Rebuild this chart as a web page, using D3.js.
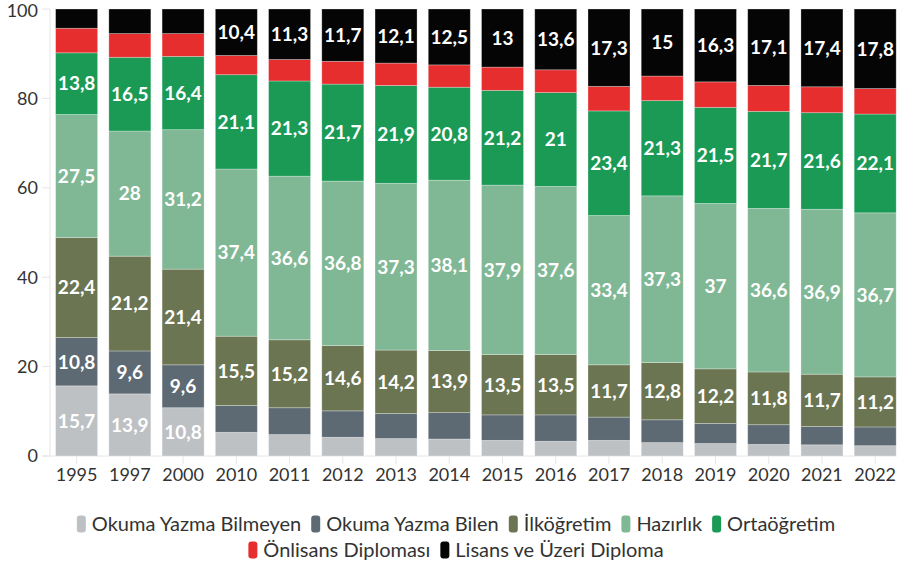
<!DOCTYPE html>
<html>
<head>
<meta charset="utf-8">
<script src="https://cdn.jsdelivr.net/npm/d3@7"></script>
<style>
  html, body { margin: 0; padding: 0; background: #fff; }
  svg { display: block; font-family: Lato, "Noto Sans", sans-serif; }
</style>
</head>
<body>
<svg id="chart" width="897" height="569"></svg>
<script>
const years = ["1995","1997","2000","2010","2011","2012","2013","2014","2015","2016","2017","2018","2019","2020","2021","2022"];
const seriesNames = ["Okuma Yazma Bilmeyen","Okuma Yazma Bilen","İlköğretim","Hazırlık","Ortaöğretim","Önlisans Diploması","Lisans ve Üzeri Diploma"];
const colors = ["#bec1c4","#5d6a73","#6b7551","#80b895","#1a9a55","#e62e2e","#050505"];

const okumaYazmaBilmeyen = [15.7,13.9,10.8,5.3,4.8,4.2,3.9,3.8,3.5,3.3,3.5,3.0,2.8,2.6,2.5,2.3];
const okumaYazmaBilen    = [10.8,9.6,9.6,6.0,6.0,5.9,5.6,5.9,5.7,5.9,5.2,5.1,4.5,4.4,4.1,4.2];
const ilkogretim         = [22.4,21.2,21.4,15.5,15.2,14.6,14.2,13.9,13.5,13.5,11.7,12.8,12.2,11.8,11.7,11.2];
const hazirlik           = [27.5,28,31.2,37.4,36.6,36.8,37.3,38.1,37.9,37.6,33.4,37.3,37,36.6,36.9,36.7];
const ortaogretim        = [13.8,16.5,16.4,21.1,21.3,21.7,21.9,20.8,21.2,21,23.4,21.3,21.5,21.7,21.6,22.1];
const onlisans           = [5.5,5.3,5.1,4.3,4.8,5.1,5.0,5.0,5.2,5.1,5.5,5.5,5.7,5.8,5.8,5.7];
const lisans             = [4.3,5.5,5.5,10.4,11.3,11.7,12.1,12.5,13,13.6,17.3,15,16.3,17.1,17.4,17.8];
const yTicks = [0,20,40,60,80,100];

const seriesValues = [okumaYazmaBilmeyen, okumaYazmaBilen, ilkogretim, hazirlik, ortaogretim, onlisans, lisans];

const svg = d3.select("#chart");
const x = d3.scaleBand().domain(years).range([50, 901.8]).paddingInner(0.211).paddingOuter(0.1055);
const y = d3.scaleLinear().domain([0, 100]).range([456, 9]);

// axes
const gAxisY = svg.append("g");
gAxisY.append("line").attr("x1", 50).attr("x2", 50).attr("y1", y(100)).attr("y2", y(0))
  .attr("stroke", "#e6e6e6").attr("stroke-width", 1);
gAxisY.selectAll("line.tick").data(yTicks).join("line").attr("class","tick")
  .attr("x1", 42).attr("x2", 50).attr("y1", d => y(d)).attr("y2", d => y(d))
  .attr("stroke", "#e6e6e6");
gAxisY.selectAll("text").data(yTicks).join("text")
  .attr("x", 38).attr("y", d => Math.max(y(d), 11)).attr("dy", "0.35em")
  .attr("text-anchor", "end").attr("font-size", 18).attr("fill", "#333")
  .text(d => d);

const gAxisX = svg.append("g");
gAxisX.append("line").attr("x1", 42).attr("x2", 897).attr("y1", y(0)).attr("y2", y(0))
  .attr("stroke", "#e6e6e6");
gAxisX.selectAll("line.tick").data(years).join("line").attr("class","tick")
  .attr("x1", d => x(d) + x.bandwidth()/2).attr("x2", d => x(d) + x.bandwidth()/2)
  .attr("y1", y(0)).attr("y2", y(0) + 8).attr("stroke", "#e6e6e6");
gAxisX.selectAll("text").data(years).join("text")
  .attr("x", d => x(d) + x.bandwidth()/2).attr("y", 481)
  .attr("text-anchor", "middle").attr("font-size", 18).attr("fill", "#333")
  .text(d => d);

// stacked data
const table = years.map((yr, i) => {
  const row = { year: yr };
  seriesNames.forEach((s, j) => row[s] = seriesValues[j][i]);
  return row;
});
const stacked = d3.stack().keys(seriesNames)(table);

const fmt = v => String(v).replace(".", ",");

const layers = svg.append("g").selectAll("g").data(stacked).join("g")
  .attr("fill", (d, i) => colors[i]);
layers.selectAll("rect").data(d => d).join("rect")
  .attr("x", d => x(d.data.year))
  .attr("width", x.bandwidth())
  .attr("y", d => y(d[1]))
  .attr("height", d => y(d[0]) - y(d[1]))
  .attr("stroke", "rgba(255,255,255,0.35)")
  .attr("stroke-width", 0.8);

const labels = svg.append("g");
stacked.forEach((layer, i) => {
  labels.selectAll(null).data(layer.filter(d => (d[1] - d[0]) >= 9)).join("text")
    .attr("x", d => x(d.data.year) + x.bandwidth()/2)
    .attr("y", d => (y(d[0]) + y(d[1])) / 2)
    .attr("dy", "0.36em")
    .attr("text-anchor", "middle")
    .attr("font-size", 19).attr("font-weight", "bold").attr("fill", "#fff")
    .text(d => fmt(d.data[layer.key]));
});

// legend
const rows = [seriesNames.slice(0, 5), seriesNames.slice(5)];
const rowY = [524, 550];
const mW = 9, mH = 17, gapMT = 6, gapItem = 10, fs = 20;
rows.forEach((names, r) => {
  const g = svg.append("g");
  let cx = 0;
  names.forEach(name => {
    const idx = seriesNames.indexOf(name);
    const item = g.append("g").attr("transform", `translate(${cx},0)`);
    item.append("rect").attr("x", 0).attr("y", rowY[r] - mH/2).attr("width", mW).attr("height", mH)
      .attr("rx", 3).attr("fill", colors[idx]);
    const t = item.append("text").attr("x", mW + gapMT).attr("y", rowY[r]).attr("dy", "0.35em")
      .attr("font-size", fs).attr("fill", "#333").text(name);
    const w = t.node().getComputedTextLength();
    cx += mW + gapMT + w + gapItem;
  });
  const total = cx - gapItem;
  g.attr("transform", `translate(${456 - total/2},0)`);
});
</script>
</body>
</html>
